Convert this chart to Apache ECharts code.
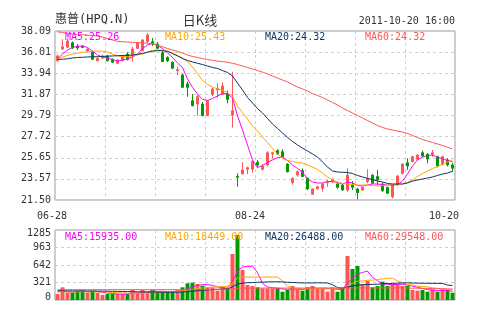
<!DOCTYPE html>
<html><head><meta charset="utf-8">
<script src="https://cdn.jsdelivr.net/npm/echarts@6/dist/echarts.min.js"></script>
<style>html,body{margin:0;padding:0;background:#fff}#c{width:480px;height:330px}</style>
</head><body><div id="c"></div>
<script>
const dates = ['06-28','06-29','06-30','07-05','07-06','07-07','07-08','07-11','07-12','07-13','07-14','07-15','07-18','07-19','07-20','07-21','07-22','07-25','07-26','07-27','07-28','07-29',
'08-01','08-02','08-03','08-04','08-05','08-08','08-09','08-10','08-11','08-12','08-15','08-16','08-17','08-18','08-19','08-22','08-23','08-24','08-25','08-26','08-29','08-30','08-31',
'09-01','09-02','09-06','09-07','09-08','09-09','09-12','09-13','09-14','09-15','09-16','09-19','09-20','09-21','09-22','09-23','09-26','09-27','09-28','09-29','09-30',
'10-03','10-04','10-05','10-06','10-07','10-10','10-11','10-12','10-13','10-14','10-17','10-18','10-19','10-20'];
const opens  = [35.17,36.32,36.49,36.94,36.62,36.60,36.13,36.06,35.17,35.44, 35.64,35.31,34.92,35.20,35.83,35.64,36.39,36.16,37.04,37.04, 36.81,35.96,35.51,35.02,34.20,33.77,32.89,31.25,30.92,30.92, 29.77,31.88,32.30,31.88,31.91,29.84,23.83,24.06,24.51,24.51, 25.20,24.51,24.94,26.02,26.34,26.24,25.03,23.20,23.95,24.38, 23.63,22.06,22.61,22.65,23.20,23.30,23.07,22.97,22.48,22.97, 22.58,22.48,23.30,23.95,23.80,23.07,22.74,21.82,22.97,24.12, 25.16,25.26,25.50,26.14,26.00,26.00,25.75,25.00,25.43,24.94];
const closes = [35.64,36.55,37.11,36.45,36.42,36.47,36.32,35.31,35.41,35.64, 35.17,35.02,35.24,35.60,35.31,36.32,36.88,37.21,37.70,36.90, 36.39,35.08,35.17,34.43,34.30,32.56,32.56,30.76,31.64,29.77, 31.22,32.40,32.46,32.69,31.38,30.27,23.73,24.45,24.67,25.26, 24.94,24.84,26.14,26.14,26.02,25.75,24.28,23.63,24.28,23.80, 22.58,22.58,22.80,23.07,23.30,23.53,22.74,22.48,23.95,22.75, 22.22,22.74,23.63,23.14,23.50,22.41,22.16,22.97,23.86,25.03, 24.84,25.75,25.92,25.82,25.52,26.14,24.84,25.75,24.94,24.61];
const lows   = [35.08,36.22,36.42,36.32,36.22,36.40,36.05,35.24,35.10,35.35, 35.10,34.95,34.85,35.10,35.20,35.08,36.30,36.10,36.95,36.62, 36.30,35.05,35.05,34.35,33.77,32.50,31.64,30.70,29.77,29.77, 29.77,31.70,31.54,31.80,30.99,28.60,22.80,24.00,24.05,24.18, 24.70,24.40,24.80,25.59,25.95,25.70,24.20,23.00,23.80,23.75, 22.50,22.00,22.50,22.31,22.80,23.20,22.60,22.40,22.31,22.48, 21.57,22.40,23.14,23.10,22.97,22.30,22.10,21.67,22.90,24.00, 24.45,25.20,25.40,25.75,25.10,25.75,24.70,24.90,24.80,24.28];
const highs  = [35.80,37.28,37.35,37.06,36.81,36.70,36.40,36.13,35.50,35.75, 35.75,35.40,35.30,35.70,36.00,36.52,37.00,37.30,37.89,37.40, 37.01,36.13,35.60,35.10,34.59,33.90,33.11,31.90,31.80,31.12, 31.30,32.50,32.96,33.05,32.23,34.09,24.12,25.20,24.77,25.43, 25.43,25.00,26.30,26.24,26.48,26.48,25.10,23.70,24.40,24.60, 23.70,22.65,22.90,23.20,23.46,23.60,23.20,23.10,24.60,23.36, 22.70,22.80,24.51,24.00,24.45,23.20,22.80,23.00,23.95,25.10, 25.59,25.85,26.00,26.34,26.10,26.41,25.85,25.85,25.60,25.16];
const ma5  = [35.34,35.83,36.22,36.47,36.57,36.62,36.47,36.13,35.73,35.54, 35.44,35.29,35.14,35.24,35.34,35.54,35.83,36.37,36.72,36.86, 36.67,36.37,35.93,35.49,34.95,34.51,33.38,32.54,31.91,31.37, 31.27,31.46,31.71,31.95,31.95,31.51,29.75,28.37,26.90,25.43, 24.69,24.89,25.18,25.43,25.67,25.72,25.38,24.94,24.59,24.25, 23.56,23.27,23.17,23.17,23.32,23.32,23.22,23.07,23.27,23.17, 22.92,22.87,22.97,23.07,23.07,23.02,22.97,22.97,23.02,23.36, 24.05,24.84,25.43,25.72,25.87,25.92,25.72,25.53,25.38,25.26];
const ma10 = [35.34,35.54,35.69,35.81,35.90,36.00,36.06,36.10,36.13,36.11, 36.03,35.83,35.66,35.57,35.57,35.64,35.73,35.83,36.03,36.18, 36.22,36.22,36.13,35.93,35.69,35.44,35.10,34.56,33.92,33.23, 32.84,32.59,32.40,32.25,32.05,31.66,30.73,30.09,29.45,28.76, 28.27,27.68,27.14,26.56,26.02,25.57,25.38,25.28,25.18,25.13, 24.94,24.74,24.49,24.15,23.76,23.46,23.27,23.12,23.07,23.02, 22.97,22.97,22.97,22.92,22.87,22.92,22.97,23.02,23.07,23.07, 23.22,23.46,23.81,24.10,24.35,24.59,24.79,25.03,25.23,25.43];
const ma20 = [35.31,35.32,35.36,35.44,35.49,35.51,35.54,35.56,35.57,35.59, 35.62,35.64,35.66,35.69,35.70,35.73,35.80,35.90,36.00,36.11, 36.16,36.16,36.08,35.88,35.64,35.39,35.19,35.05,34.92,34.80, 34.65,34.51,34.41,34.21,34.02,33.67,32.98,32.30,31.56,31.02, 30.48,30.04,29.50,28.96,28.52,28.08,27.64,27.25,26.90,26.60, 26.31,26.02,25.72,25.23,24.74,24.35,24.25,24.22,24.20,24.10, 23.91,23.76,23.61,23.51,23.36,23.27,23.12,23.07,23.07,23.07, 23.17,23.36,23.46,23.56,23.66,23.76,23.91,24.05,24.15,24.32];
const ma60 = [38.01,37.94,37.86,37.80,37.75,37.72,37.69,37.65,37.60,37.50, 37.35,37.21,37.08,37.04,37.01,36.98,36.95,36.92,36.89,36.83, 36.68,36.54,36.37,36.22,36.08,35.93,35.73,35.59,35.49,35.39, 35.29,35.21,35.14,35.08,35.02,34.92,34.80,34.65,34.51,34.36, 34.21,34.06,33.87,33.67,33.48,33.28,33.08,32.84,32.59,32.40, 32.20,31.95,31.76,31.56,31.32,31.07,30.83,30.53,30.29,30.04, 29.80,29.55,29.30,29.06,28.81,28.62,28.47,28.37,28.27,28.17, 28.03,27.83,27.64,27.44,27.29,27.14,27.00,26.85,26.68,26.51];
const volumes = [110,233,134,134,171,171,134,171,134,92, 110,110,110,110,110,184,134,184,134,184, 152,152,152,152,184,233,306,318,294,263, 233,233,171,233,215,844,1193,551,275,257, 233,214,214,214,214,152,184,257,196,171, 233,257,214,214,152,233,152,233,808,569, 624,294,355,233,257,337,257,294,294,257, 257,184,171,184,152,196,152,196,184,134];
const vma5  = [150,160,150,145,156,169,149,156,156,140, 128,123,111,106,110,125,130,144,149,164, 158,161,155,158,158,175,205,239,267,283, 283,268,239,227,217,339,531,607,616,624, 502,306,239,226,218,202,196,204,201,192, 208,223,214,218,214,214,193,197,316,399, 477,506,530,415,353,295,288,276,288,288, 272,257,233,211,190,177,171,176,176,159];
const vma10 = [150,152,150,148,150,152,150,150,150,148, 148,136,134,131,125,127,127,128,128,137, 141,145,150,154,161,166,183,197,213,221, 229,237,239,247,250,311,400,423,421,421, 421,419,423,421,421,352,251,221,214,205, 205,209,209,209,203,211,208,206,267,307, 346,349,363,365,376,386,397,403,351,320, 284,273,254,249,239,225,214,204,193,184];
const vma20 = [170,170,168,168,167,167,166,165,165,163, 162,160,158,156,154,152,150,148,146,143, 145,141,142,143,143,146,155,162,170,179, 185,191,194,200,206,239,292,310,317,321, 325,328,331,334,335,331,325,322,317,313, 313,314,316,315,312,281,229,213,240,256, 275,279,286,287,289,299,302,304,309,313, 315,311,309,307,307,305,305,304,275,265];
const vma60 = [190,190,190,190,190,190,190,190,190,190, 190,190,190,190,190,190,190,190,190,190, 190,190,190,190,190,190,191,192,193,194, 195,196,197,198,199,205,215,218,219,219, 219,219,219,219,219,219,219,219,219,219, 219,219,219,219,219,219,219,219,222,222, 222,222,222,222,222,222,222,222,222,222, 220,218,216,214,212,210,208,206,204,202];
const priceTicks = ['21.50','23.57','25.65','27.72','29.79','31.87','33.94','36.01','38.09'];
const volTicks = ['0','321','642','963','1285'];
const priceLegend = ['MA5:25.26','MA10:25.43','MA20:24.32','MA60:24.32'];
const volLegend = ['MA5:15935.00','MA10:18449.00','MA20:26488.00','MA60:29548.00'];
const maColors = ['#ff00ff','#ffa500','#0d3566','#ff5555'];
const stockName = '惠普(HPQ.N)';
const periodName = '日K线';
const timeStamp = '2011-10-20 16:00';
const labelIdx = [0, 39, 79];

const UP = '#ff5555', DOWN = '#009900';
const MONO = '"DejaVu Sans Mono", monospace';
const chart = echarts.init(document.getElementById('c'), null, {renderer:'canvas'});
const candles = dates.map((d,i)=>[opens[i],closes[i],lows[i],highs[i]]);
const volData = volumes.map((v,i)=>({value:v, itemStyle:{color: closes[i]>=opens[i]?UP:DOWN}}));
const dashed = {show:true, lineStyle:{color:'#d0d0d0', type:[3,3], width:1}};
const lineSeries = (data, color, xi, yi) => ({type:'line', data, xAxisIndex:xi, yAxisIndex:yi, showSymbol:false, silent:true, z:5, lineStyle:{width:1, color}, itemStyle:{color}});
const legendGraphic = [];
priceLegend.forEach((t,i)=>legendGraphic.push({type:'text', x:65+100*i, y:37, z:10, style:{text:t, fill:maColors[i], font:'10px '+MONO, verticalAlign:'middle', textVerticalAlign:'middle'}}));
volLegend.forEach((t,i)=>legendGraphic.push({type:'text', x:65+100*i, y:237, z:10, style:{text:t, fill:maColors[i], font:'10px '+MONO, verticalAlign:'middle', textVerticalAlign:'middle'}}));
legendGraphic.push({type:'text', x:55, y:20, style:{text:stockName, fill:'#333', font:'12px '+MONO+', "Noto Sans CJK SC"', verticalAlign:'middle', textVerticalAlign:'middle'}});
legendGraphic.push({type:'text', x:200, y:20, style:{text:periodName, fill:'#333', font:'13px "Noto Sans CJK SC"', align:'center', textAlign:'center', verticalAlign:'middle', textVerticalAlign:'middle'}});
legendGraphic.push({type:'text', x:455, y:21, style:{text:timeStamp, fill:'#333', font:'10px '+MONO, align:'right', textAlign:'right', verticalAlign:'middle', textVerticalAlign:'middle'}});

const xShift = {0:11, 39:5, 79:17};
chart.setOption({
  animation:false,
  backgroundColor:'#fff',
  graphic: legendGraphic,
  grid:[
    {left:55, top:31, width:400, height:169, show:true, borderColor:'#999', borderWidth:1, backgroundColor:'transparent'},
    {left:55, top:230, width:400, height:70, show:true, borderColor:'#999', borderWidth:1, backgroundColor:'transparent'}
  ],
  xAxis:[
    {type:'category', gridIndex:0, data:dates, boundaryGap:true, axisLine:{show:false}, axisTick:{show:false},
     axisLabel:{interval:(i)=>labelIdx.indexOf(i)>=0, color:'#333', fontFamily:MONO, fontSize:10, margin:11, hideOverlap:false,
       formatter:(v,i)=>'{s'+i+'|'+v+'}',
       rich:{s0:{padding:[0,xShift[0],0,0],fontFamily:MONO,fontSize:10,color:'#333'}, s39:{padding:[0,xShift[39],0,0],fontFamily:MONO,fontSize:10,color:'#333'}, s79:{padding:[0,xShift[79],0,0],fontFamily:MONO,fontSize:10,color:'#333'}}},
     splitLine:Object.assign({interval:9}, dashed)},
    {type:'category', gridIndex:1, data:dates, boundaryGap:true, axisLine:{show:false}, axisTick:{show:false}, axisLabel:{show:false},
     splitLine:Object.assign({interval:9}, dashed)}
  ],
  yAxis:[
    {type:'value', gridIndex:0, min:21.5, max:38.09, show:false, splitLine:{show:false}},
    {type:'value', gridIndex:0, min:0, max:8, interval:1, position:'left', axisLine:{show:false}, axisTick:{show:false},
     axisLabel:{color:'#333', fontFamily:MONO, fontSize:10, margin:4, formatter:(v)=>priceTicks[v]}, splitLine:dashed},
    {type:'value', gridIndex:1, min:0, max:1285, show:false, splitLine:{show:false}},
    {type:'value', gridIndex:1, min:0, max:4, interval:1, position:'left', axisLine:{show:false}, axisTick:{show:false},
     axisLabel:{color:'#333', fontFamily:MONO, fontSize:10, margin:4,
       formatter:(v)=> v===4?'{t|'+volTicks[v]+'}':(v===0?'{b|'+volTicks[v]+'}':volTicks[v]),
       rich:{t:{padding:[6,0,0,0],fontFamily:MONO,fontSize:10,color:'#333'}, b:{padding:[0,0,6,0],fontFamily:MONO,fontSize:10,color:'#333'}}},
     splitLine:dashed}
  ],
  series:[
    {type:'candlestick', xAxisIndex:0, yAxisIndex:0, data:candles, barWidth:3, z:3,
     itemStyle:{color:UP, color0:DOWN, borderColor:UP, borderColor0:DOWN, borderWidth:1}},
    lineSeries(ma5, maColors[0], 0, 0),
    lineSeries(ma10, maColors[1], 0, 0),
    lineSeries(ma20, maColors[2], 0, 0),
    lineSeries(ma60, maColors[3], 0, 0),
    {type:'bar', xAxisIndex:1, yAxisIndex:2, data:volData, barWidth:4, z:3},
    lineSeries(vma5, maColors[0], 1, 2),
    lineSeries(vma10, maColors[1], 1, 2),
    lineSeries(vma20, maColors[2], 1, 2),
    lineSeries(vma60, maColors[3], 1, 2)
  ]
});
</script></body></html>
